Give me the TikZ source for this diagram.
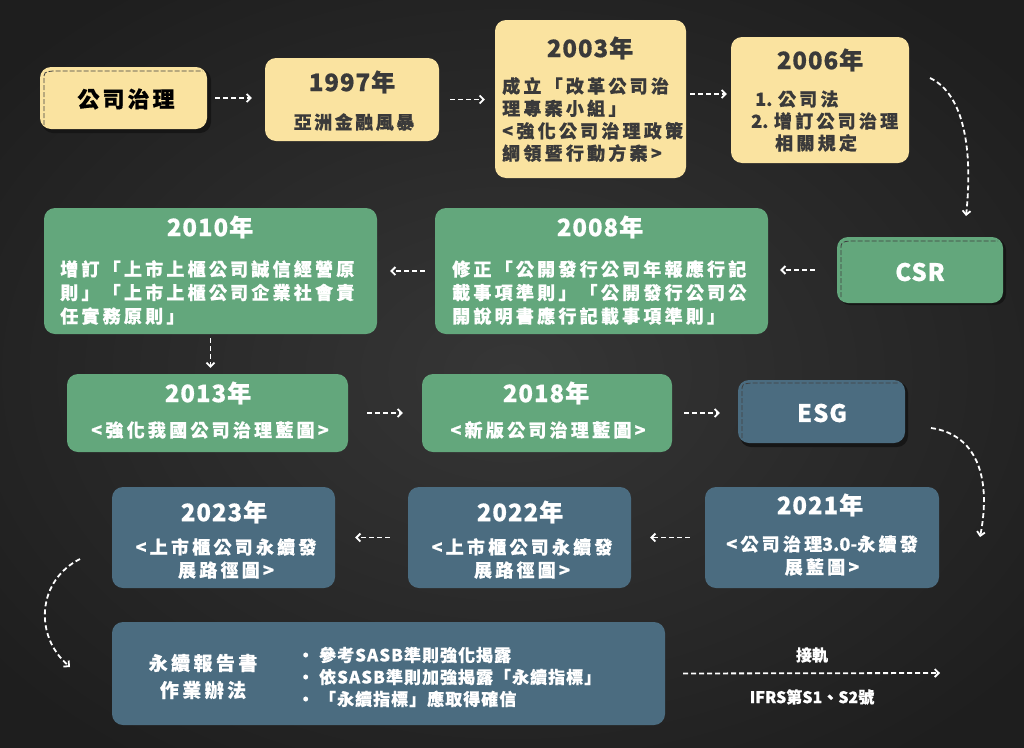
\documentclass[tikz,border=0pt]{standalone}
\usepackage{fontspec}
\setmainfont{Noto Sans CJK TC}
\newfontfamily\yr{Noto Sans CJK TC}[LetterSpace=4, BoldFeatures={FakeBold=0.6}]
\newfontfamily\bd{Noto Sans CJK TC}[LetterSpace=18, BoldFeatures={FakeBold=0.6}]
\newfontfamily\md{Noto Sans CJK TC}[LetterSpace=14, BoldFeatures={FakeBold=0.6}]
\newfontfamily\bl{Noto Sans CJK TC}[LetterSpace=6, BoldFeatures={FakeBold=0.5}]
\newfontfamily\pl{Noto Sans CJK TC}[BoldFeatures={FakeBold=0.5}]
\usetikzlibrary{arrows.meta}
\definecolor{bgin}{HTML}{363636}
\definecolor{bgout}{HTML}{1E1E1E}
\definecolor{ylw}{HTML}{FAE3A0}
\definecolor{grn}{HTML}{63A77C}
\definecolor{blu}{HTML}{4B6C80}
\definecolor{ytxt}{HTML}{3A3A3A}
\definecolor{shd}{HTML}{161616}
\begin{document}
\begin{tikzpicture}[x=1pt,y=-1pt,
  box/.style={rounded corners=11pt, inner sep=0pt},
  ybox/.style={box, fill=ylw},
  gbox/.style={box, fill=grn},
  bbox/.style={box, fill=blu},
  ttl/.style={font=\yr\bfseries\fontsize{24}{26}\selectfont, inner sep=0pt},
  txt/.style={font=\bd\bfseries\fontsize{18}{23.5}\selectfont, inner sep=0pt, align=left},
  ctxt/.style={txt, align=center},
  arr/.style={draw=white, line width=1.8pt, dash pattern=on 5pt off 3pt, -{Straight Barb[length=4pt,width=8pt]}},
  shadowbox/.style={fill=shd, rounded corners=11pt},
  innerdash/.style={draw=black!75, line width=0.8pt, dash pattern=on 5pt off 2pt},
]
\useasboundingbox (0,0) rectangle (1024,747);
\shade[inner color=bgin, outer color=bgout] (-150,-100) rectangle (1174,847);

% ---------- row 1 ----------
\fill[shadowbox] (42,69) rectangle (211,133);
\node[ybox, minimum width=167pt, minimum height=62pt] (gov) at (123.5,98) {};
\draw[innerdash] (44,125) -- (44,80) .. controls (44,72) .. (53,71) -- (203,71);
\node[font=\md\bfseries\fontsize{22}{24}\selectfont, text=black, inner sep=0pt] (tgov) at (126,99) {公司治理};

\node[ybox, minimum width=174pt, minimum height=83pt] (b1997) at (352,99.5) {};
\node[ttl, text=ytxt] (t1997) at (352,82) {1997年};
\node[font=\md\bfseries\fontsize{18}{22}\selectfont, text=ytxt, inner sep=0pt] (d1997) at (354,122) {亞洲金融風暴};

\node[ybox, minimum width=191pt, minimum height=158pt] (b2003) at (590.5,99) {};
\node[ttl, text=ytxt] (t2003) at (590,48) {2003年};
\node[txt, text=ytxt, anchor=west, font=\bd\bfseries\fontsize{18}{22.4}\selectfont] (d2003) at (502,119.5) {成立「改革公司治\\理專案小組」\\<強化公司治理政策\\綱領暨行動方案>};

\node[ybox, minimum width=178pt, minimum height=126pt] (b2006) at (820,100) {};
\node[ttl, text=ytxt] (t2006) at (820,60) {2006年};
\node[txt, text=ytxt, anchor=west, font=\bd\bfseries\fontsize{18}{22}\selectfont] (d2006) at (751,121) {\hspace*{4pt}{\pl 1. }公司法\\{\pl 2. }增訂公司治理\\\hspace*{24pt}相關規定};

% ---------- row 2 ----------
\fill[shadowbox] (839,239) rectangle (1006,305);
\node[gbox, minimum width=166pt, minimum height=66pt] (csr) at (920,270) {};
\draw[innerdash] (841,297) -- (841,250) .. controls (841,242) .. (850,241) -- (998,241);
\node[font=\yr\bfseries\fontsize{24}{26}\selectfont, text=white, inner sep=0pt] (tcsr) at (920,272) {CSR};

\node[gbox, minimum width=333pt, minimum height=126pt] (b2008) at (601.5,271) {};
\node[ttl, text=white] (t2008) at (600,227) {2008年};
\node[txt, text=white, anchor=west] (d2008) at (452,292.5) {修正「公開發行公司年報應行記\\載事項準則」「公開發行公司公\\開說明書應行記載事項準則」};

\node[gbox, minimum width=333pt, minimum height=126pt] (b2010) at (210.5,271) {};
\node[ttl, text=white] (t2010) at (210,227) {2010年};
\node[txt, text=white, anchor=west] (d2010) at (60,292.5) {增訂「上市上櫃公司誠信經營原\\則」「上市上櫃公司企業社會責\\任實務原則」};

% ---------- row 3 ----------
\node[gbox, minimum width=281pt, minimum height=78pt] (b2013) at (207.5,413) {};
\node[ttl, text=white] (t2013) at (208,393) {2013年};
\node[ctxt, text=white] (d2013) at (210,430) {<強化我國公司治理藍圖>};

\node[gbox, minimum width=250pt, minimum height=78pt] (b2018) at (547,413) {};
\node[ttl, text=white] (t2018) at (546,393) {2018年};
\node[ctxt, text=white] (d2018) at (548,430) {<新版公司治理藍圖>};

\fill[shadowbox] (740,382) rectangle (908,447);
\node[bbox, minimum width=167pt, minimum height=63pt] (esg) at (821.5,411.5) {};
\draw[innerdash] (742,438) -- (742,392) .. controls (742,384) .. (751,383) -- (898,383);
\node[font=\yr\bfseries\fontsize{24}{26}\selectfont, text=white, inner sep=0pt] (tesg) at (822,413) {ESG};

% ---------- row 4 ----------
\node[bbox, minimum width=234pt, minimum height=101pt] (b2021) at (822,537.5) {};
\node[ttl, text=white] (t2021) at (820,505) {2021年};
\node[ctxt, text=white, font=\bd\bfseries\fontsize{18}{23}\selectfont] (d2021) at (822,555.5) {<公司治理{\pl 3.0-}永續發\\展藍圖>};

\node[bbox, minimum width=223pt, minimum height=101pt] (b2022) at (519.5,537.5) {};
\node[ttl, text=white] (t2022) at (520,512) {2022年};
\node[ctxt, text=white, font=\bd\bfseries\fontsize{18}{23}\selectfont] (d2022) at (522,558.5) {<上市櫃公司永續發\\展路徑圖>};

\node[bbox, minimum width=223pt, minimum height=101pt] (b2023) at (223.5,537.5) {};
\node[ttl, text=white] (t2023) at (224,512) {2023年};
\node[ctxt, text=white, font=\bd\bfseries\fontsize{18}{23}\selectfont] (d2023) at (226,558.5) {<上市櫃公司永續發\\展路徑圖>};

% ---------- row 5 ----------
\node[bbox, minimum width=553pt, minimum height=103pt] (rep) at (388.5,673.5) {};
\node[ctxt, text=white, font=\bd\bfseries\fontsize{19}{27}\selectfont] (trep) at (203,676.5) {永續報告書\\作業辦法};
\node[txt, text=white, anchor=west, font=\bl\bfseries\fontsize{17}{22}\selectfont] (drep) at (297,677) {• 參考SASB準則強化揭露\\• 依SASB準則加強揭露「永續指標」\\• 「永續指標」應取得確信};

\coordinate (ifrs) at (940,673);
\node[font=\pl\bfseries\fontsize{16}{18}\selectfont, text=white, inner sep=0pt] (ljg) at (812,655) {接軌};
\node[font=\pl\bfseries\fontsize{16}{18}\selectfont, text=white, inner sep=0pt] (lifrs) at (812,697) {IFRS第S1、S2號};

% ---------- connectors ----------
\draw[arr, shorten <=8pt, shorten >=13pt] (gov.east) -- (gov.east -| b1997.west);
\draw[arr, shorten <=11pt, shorten >=10pt] (b1997.east) -- (b1997.east -| b2003.west);
\draw[arr, shorten <=4pt, shorten >=4pt] ([yshift=5pt]b2003.east) -- ([yshift=5pt]b2003.east -| b2006.west);
\coordinate (c1s) at (930,78);
\coordinate (c1e) at (966,216);
\draw[arr] (c1s) .. controls (964,94) and (973,150) .. (c1e);
\draw[arr, shorten <=22pt, shorten >=12pt] (csr.west) -- (csr.west -| b2008.east);
\draw[arr, shorten <=10pt, shorten >=13pt] (b2008.west) -- (b2008.west -| b2010.east);
\draw[arr, shorten <=4pt, shorten >=6pt] (b2010.south) -- (b2010.south |- b2013.north);
\draw[arr, shorten <=19pt, shorten >=19pt] (b2013.east) -- (b2013.east -| b2018.west);
\draw[arr, shorten <=12pt, shorten >=18pt] (b2018.east) -- (b2018.east -| esg.west);
\coordinate (c2s) at (931,428);
\coordinate (c2e) at (980,537);
\draw[arr] (c2s) .. controls (975,434) and (992,475) .. (c2e);
\draw[arr, shorten <=15pt, shorten >=19pt] (b2021.west) -- (b2021.west -| b2022.east);
\draw[arr, shorten <=18pt, shorten >=20pt] (b2022.west) -- (b2022.west -| b2023.east);
\coordinate (c3s) at (80,559);
\coordinate (c3e) at (70,667);
\draw[arr] (c3s) .. controls (38,580) and (33,635) .. (c3e);
\draw[arr, shorten <=18pt] (rep.east) -- (ifrs);
\end{tikzpicture}
\end{document}
